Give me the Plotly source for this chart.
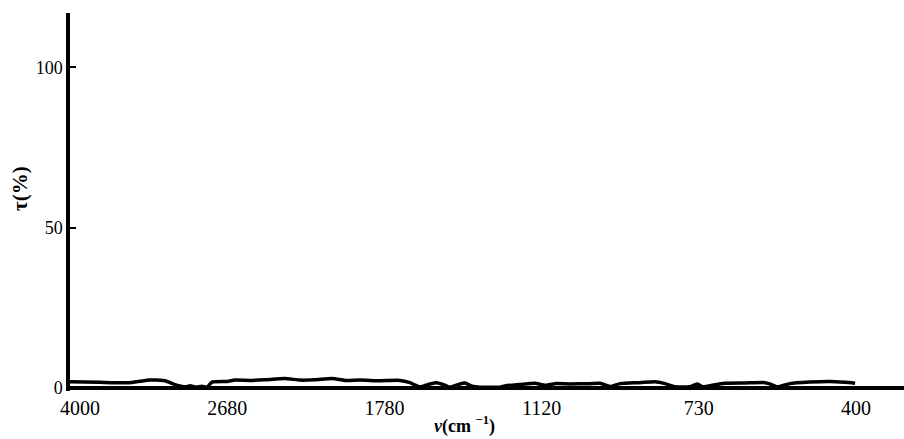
import numpy as np
import plotly.graph_objects as go

# Wavenumber scale of the recorder chart (non-linear, equally spaced ticks)
tick_wavenumbers = [4000, 2680, 1780, 1120, 730, 400]
tick_labels = ["\u00a0\u00a0\u00a0\u00a04000", "2680", "1780", "1120", "730", "400"]

# Transmission spectrum, ν (cm⁻¹) and τ (%)
wavenumber = [4000, 3748, 3496, 3328, 3202, 3118, 3034, 2992, 2942, 2892, 2850,
              2808, 2680, 2635, 2549, 2464, 2349, 2263, 2177, 2080, 2005, 1920,
              1805, 1715, 1673, 1631, 1589, 1559, 1526, 1505, 1471, 1442, 1412,
              1379, 1337, 1295, 1274, 1211, 1148, 1112, 1087, 1050, 1000, 975,
              950, 925, 876, 839, 814, 789, 752, 734, 721, 702, 675, 633, 591,
              581, 564, 539, 497, 455, 423, 402]
transmission = [1.9, 1.7, 1.6, 2.4, 2.2, 1.0, 0.3, 0.6, 0.2, 0.5, 0.2,
                1.8, 2.0, 2.4, 2.3, 2.5, 2.9, 2.4, 2.5, 2.9, 2.3, 2.4,
                2.2, 2.3, 1.6, 0.3, 1.2, 1.6, 0.8, 0.2, 1.0, 1.5, 0.5,
                0.2, 0.2, 0.2, 0.6, 1.0, 1.4, 0.8, 1.3, 1.2, 1.3, 1.4,
                0.4, 1.3, 1.6, 1.9, 1.3, 0.3, 0.3, 1.2, 0.3, 0.8, 1.4, 1.5, 1.6,
                1.2, 0.3, 1.3, 1.8, 2.0, 1.7, 1.4]

y_ticks = [0, 50, 100]

# Map wavenumber onto the chart's equally spaced tick positions
tick_pos = np.arange(len(tick_wavenumbers), dtype=float)
x_pos = np.interp(-np.asarray(wavenumber, float),
                  -np.asarray(tick_wavenumbers, float), tick_pos)

fig = go.Figure()
fig.add_trace(go.Scatter(
    x=x_pos, y=transmission, mode="lines",
    line=dict(color="black", width=3.5, shape="spline", smoothing=0.5),
    hoverinfo="skip", showlegend=False,
))

serif = "Liberation Serif, Times New Roman, serif"

fig.update_layout(
    width=904, height=439,
    margin=dict(l=70, r=0, t=13, b=48),
    paper_bgcolor="white", plot_bgcolor="white",
    font=dict(family=serif, color="black", size=20),
    xaxis=dict(
        range=[0, 5.305], showgrid=False, zeroline=False, showline=False,
        tickmode="array", tickvals=tick_pos, ticktext=tick_labels,
        ticks="", ticklabelstandoff=3, tickfont=dict(size=20, family=serif),
    ),
    yaxis=dict(
        range=[-1, 117], showgrid=False,
        zeroline=True, zerolinecolor="black", zerolinewidth=3.5,
        showline=True, linecolor="black", linewidth=3.5,
        tickmode="array", tickvals=y_ticks, ticktext=[str(v) for v in y_ticks],
        ticks="inside", ticklen=6, tickwidth=2, tickcolor="black",
        tickfont=dict(size=18, family=serif),
    ),
    annotations=[
        dict(text="<b><i>ν</i>(cm <sup>−1</sup>)</b>", xref="paper", yref="paper",
             x=0.4736, y=-0.09, xanchor="center", yanchor="middle",
             showarrow=False, font=dict(size=18, family=serif)),
        dict(text="<b>τ(%)</b>", xref="paper", yref="paper",
             x=-0.06, y=0.537, xanchor="center", yanchor="middle",
             textangle=-90, showarrow=False, font=dict(size=21, family=serif)),
    ],
)

fig.write_html("out.html")
